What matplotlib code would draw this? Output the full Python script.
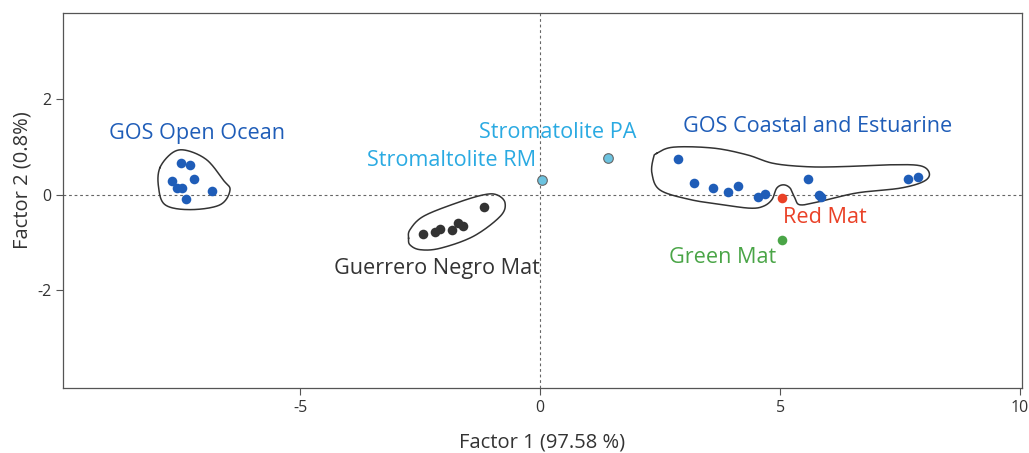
import numpy as np
import matplotlib
matplotlib.use("Agg")
import matplotlib.pyplot as plt

plt.rcParams['font.family'] = ['Open Sans', 'DejaVu Sans']
plt.rcParams['axes.unicode_minus'] = False

# --- data ---
ocean_x = [-7.48, -7.29, -7.66, -7.22, -7.57, -7.46, -6.84, -7.38]
ocean_y = [0.66, 0.63, 0.30, 0.33, 0.15, 0.15, 0.08, -0.09]

coastal_x = [2.87, 3.21, 3.61, 3.91, 4.12, 4.55, 4.69, 5.59, 5.81, 5.85, 7.67, 7.87]
coastal_y = [0.75, 0.24, 0.14, 0.05, 0.195, -0.05, 0.02, 0.34, 0.0, -0.04, 0.33, 0.37]

gn_x = [-2.43, -2.19, -2.08, -1.83, -1.70, -1.60, -1.16]
gn_y = [-0.82, -0.77, -0.71, -0.74, -0.58, -0.65, -0.25]

strom_x = [0.05, 1.42]
strom_y = [0.31, 0.77]
red_mat = (5.04, -0.07)
green_mat = (5.04, -0.94)

# group outlines (drawn by hand in the original)
ocean_hull_x = [-7.92, -7.65, -7.36, -6.94, -6.60, -6.46, -6.67, -7.29, -7.81, -7.95]
ocean_hull_y = [0.57, 0.89, 0.93, 0.73, 0.31, 0.10, -0.21, -0.31, -0.21, 0.17]

gn_hull_x = [-2.74, -2.71, -2.43, -1.74, -1.18, -0.90, -0.73, -0.83, -1.39, -2.08, -2.50, -2.71]
gn_hull_y = [-0.91, -0.73, -0.45, -0.17, 0.0, 0.0, -0.17, -0.45, -0.87, -1.12, -1.15, -1.05]

coastal_hull_x = [2.43, 2.78, 3.61, 4.31, 4.86, 5.56, 6.25, 7.29, 7.92, 8.11, 7.99, 7.50,
                  6.60, 5.83, 5.42, 5.31, 5.21, 5.07, 4.93, 4.83, 4.65, 4.38, 3.82, 3.13,
                  2.50, 2.33, 2.36]
coastal_hull_y = [0.87, 1.00, 0.98, 0.84, 0.66, 0.59, 0.59, 0.63, 0.61, 0.45, 0.28, 0.14,
                  0.04, -0.14, -0.21, -0.07, 0.14, 0.21, 0.14, -0.10, -0.24, -0.28, -0.21, -0.10,
                  0.10, 0.45, 0.77]

BLUE = '#1f5db8'
LIGHT_BLUE = '#2aaae2'
DARK = '#333333'
RED = '#ea4127'
GREEN = '#4aa547'


def smooth_closed(xs, ys, n=20):
    """Periodic Catmull-Rom curve through the given points."""
    p = np.column_stack([xs, ys])
    m = len(p)
    out = []
    t = np.linspace(0, 1, n, endpoint=False)[:, None]
    for i in range(m):
        p0, p1, p2, p3 = p[i - 1], p[i], p[(i + 1) % m], p[(i + 2) % m]
        seg = 0.5 * ((2 * p1) + (-p0 + p2) * t + (2 * p0 - 5 * p1 + 4 * p2 - p3) * t ** 2
                     + (-p0 + 3 * p1 - 3 * p2 + p3) * t ** 3)
        out.append(seg)
    out = np.vstack(out + [p[:1]])
    return out[:, 0], out[:, 1]


fig = plt.figure(figsize=(10.29, 4.53), dpi=100)
ax = fig.add_axes([0.0612, 0.1435, 0.932, 0.8275])

ax.axhline(0, color='#666666', lw=0.8, ls=(0, (2.5, 2.5)), zorder=1)
ax.axvline(0, color='#666666', lw=0.8, ls=(0, (2.5, 2.5)), zorder=1)

for hx, hy in [(ocean_hull_x, ocean_hull_y), (gn_hull_x, gn_hull_y),
               (coastal_hull_x, coastal_hull_y)]:
    sx, sy = smooth_closed(hx, hy)
    ax.plot(sx, sy, color='#333333', lw=1.1, zorder=2)

dot = 48
ax.scatter(ocean_x, ocean_y, s=dot, color=BLUE, zorder=3, linewidths=0)
ax.scatter(coastal_x, coastal_y, s=dot, color=BLUE, zorder=3, linewidths=0)
ax.scatter(gn_x, gn_y, s=dot, color=DARK, zorder=3, linewidths=0)
ax.scatter(strom_x, strom_y, s=dot, color='#6cc3e0', edgecolors='#666666',
           linewidths=0.8, zorder=3)
ax.scatter([red_mat[0]], [red_mat[1]], s=dot, color=RED, zorder=3, linewidths=0)
ax.scatter([green_mat[0]], [green_mat[1]], s=dot, color=GREEN, zorder=3, linewidths=0)

fs = 15.6
ax.text(-7.14, 1.28, 'GOS Open Ocean', color=BLUE, fontsize=fs, ha='center', va='center')
ax.text(0.36, 1.30, 'Stromatolite PA', color=LIGHT_BLUE, fontsize=fs, ha='center', va='center')
ax.text(-1.85, 0.71, 'Stromaltolite RM', color=LIGHT_BLUE, fontsize=fs, ha='center', va='center')
ax.text(5.79, 1.43, 'GOS Coastal and Estuarine', color=BLUE, fontsize=fs, ha='center', va='center')
ax.text(-2.14, -1.55, 'Guerrero Negro Mat', color=DARK, fontsize=fs, ha='center', va='center')
ax.text(5.94, -0.48, 'Red Mat', color=RED, fontsize=fs, ha='center', va='center')
ax.text(3.81, -1.32, 'Green Mat', color=GREEN, fontsize=fs, ha='center', va='center')

ax.set_xlim(-9.94, 10.04)
ax.set_ylim(-4.05, 3.81)
ax.set_xticks([-5, 0, 5, 10])
ax.set_yticks([-2, 0, 2])
ax.tick_params(direction='out', length=5, width=0.8, color='#555555',
               labelcolor='#333333', labelsize=11.5)
for s in ax.spines.values():
    s.set_color('#555555')
    s.set_linewidth(0.9)

ax.set_xlabel('Factor 1 (97.58 %)', fontsize=14.5, color='#333333', labelpad=12)
ax.set_ylabel('Factor 2 (0.8%)', fontsize=14.5, color='#333333')
ax.yaxis.set_label_coords(-0.032, 0.555)

fig.savefig('out.png', dpi=100)
